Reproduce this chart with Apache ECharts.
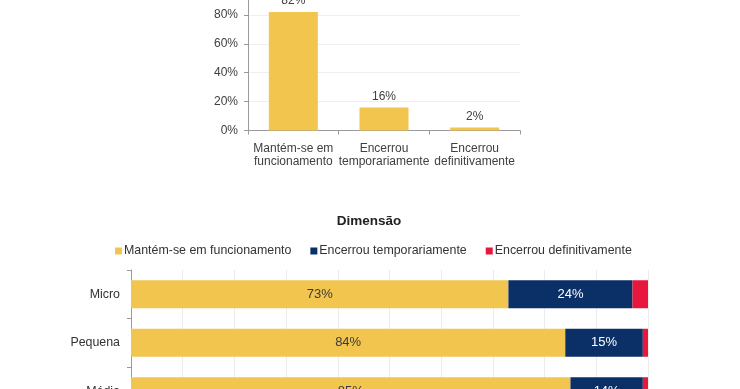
<!DOCTYPE html>
<html>
<head>
<meta charset="utf-8">
<script src="https://cdn.jsdelivr.net/npm/echarts@6/dist/echarts.min.js"></script>
<style>
html,body{margin:0;padding:0;width:740px;height:389px;overflow:hidden;background:#fff;}
#wrap{position:relative;width:740px;height:389px;overflow:hidden;}
#chart{position:absolute;left:0;top:-40px;width:740px;height:520px;}
</style>
</head>
<body>
<div id="wrap"><div id="chart"></div></div>
<script>
// Top chart data
const statusCategories = ['Mantém-se em\nfuncionamento', 'Encerrou\ntemporariamente', 'Encerrou\ndefinitivamente'];
const statusValues = [82, 16, 2];
// Bottom chart data
const sizeTitle = 'Dimensão';
const sizeCategories = ['Micro', 'Pequena', 'Média'];
const seriesNames = ['Mantém-se em funcionamento', 'Encerrou temporariamente', 'Encerrou definitivamente'];
const keepOpen = [73, 84, 85];
const closedTemp = [24, 15, 14];
const closedDef = [3, 1, 1];

const FONT = 'Liberation Sans';
const YELLOW = '#F2C54F';
const NAVY = '#0B3068';
const RED = '#E8173E';
const OFF = 40;

const chart = echarts.init(document.getElementById('chart'), null, {renderer: 'canvas'});
chart.setOption({
  backgroundColor: '#fff',
  animation: false,
  textStyle: {fontFamily: FONT},
  title: {
    text: sizeTitle,
    left: 364, top: 209 + OFF, textAlign: 'center',
    textStyle: {fontFamily: FONT, fontSize: 13.5, fontWeight: 'bold', color: '#222'}
  },
  legend: {
    data: seriesNames,
    left: 110, top: 240 + OFF,
    itemWidth: 7, itemHeight: 7, itemGap: 19,
    icon: 'rect',
    textStyle: {fontFamily: FONT, fontSize: 12.4, color: '#333', padding: [0, 0, 0, -3]}
  },
  grid: [
    {left: 248, top: -14 + OFF, width: 272, height: 144.5},
    {left: 131, top: 270 + OFF, width: 517, height: 145.5}
  ],
  xAxis: [
    {
      gridIndex: 0, type: 'category', data: statusCategories,
      axisLine: {lineStyle: {color: '#9a9a9a'}},
      axisTick: {show: true, length: 4, lineStyle: {color: '#9a9a9a'}},
      axisLabel: {fontFamily: FONT, fontSize: 12, color: '#404040', lineHeight: 13, margin: 12, interval: 0}
    },
    {
      gridIndex: 1, type: 'value', min: 0, max: 100, interval: 10,
      axisLine: {show: false}, axisTick: {show: false},
      axisLabel: {show: false},
      splitLine: {lineStyle: {color: '#ececec'}}
    }
  ],
  yAxis: [
    {
      gridIndex: 0, type: 'value', min: 0, max: 100, interval: 20,
      axisLine: {show: true, lineStyle: {color: '#9a9a9a'}},
      axisTick: {show: true, length: 4, lineStyle: {color: '#9a9a9a'}},
      axisLabel: {fontFamily: FONT, fontSize: 12, color: '#404040', margin: 10, formatter: '{value}%'},
      splitLine: {lineStyle: {color: '#efefef'}}
    },
    {
      gridIndex: 1, type: 'category', data: sizeCategories, inverse: true,
      axisLine: {show: true, lineStyle: {color: '#9a9a9a'}},
      axisTick: {show: true, length: 4, lineStyle: {color: '#9a9a9a'}},
      axisLabel: {fontFamily: FONT, fontSize: 12.4, color: '#333', margin: 11}
    }
  ],
  series: [
    {
      name: 'Situação', type: 'bar', xAxisIndex: 0, yAxisIndex: 0,
      data: statusValues, barWidth: 49,
      itemStyle: {color: YELLOW},
      label: {show: true, position: 'top', distance: 5, formatter: '{c}%', fontFamily: FONT, fontSize: 12, color: '#404040'}
    },
    {
      name: seriesNames[0], type: 'bar', xAxisIndex: 1, yAxisIndex: 1, stack: 'dim',
      data: keepOpen, barWidth: 28, itemStyle: {color: YELLOW},
      label: {show: true, position: 'inside', formatter: '{c}%', fontFamily: FONT, fontSize: 13, color: '#3a3a3a'}
    },
    {
      name: seriesNames[1], type: 'bar', xAxisIndex: 1, yAxisIndex: 1, stack: 'dim',
      data: closedTemp, barWidth: 28, itemStyle: {color: NAVY},
      label: {show: true, position: 'inside', formatter: '{c}%', fontFamily: FONT, fontSize: 13, color: '#fff'}
    },
    {
      name: seriesNames[2], type: 'bar', xAxisIndex: 1, yAxisIndex: 1, stack: 'dim',
      data: closedDef, barWidth: 28, itemStyle: {color: RED},
      label: {show: false}
    }
  ]
});
</script>
</body>
</html>
